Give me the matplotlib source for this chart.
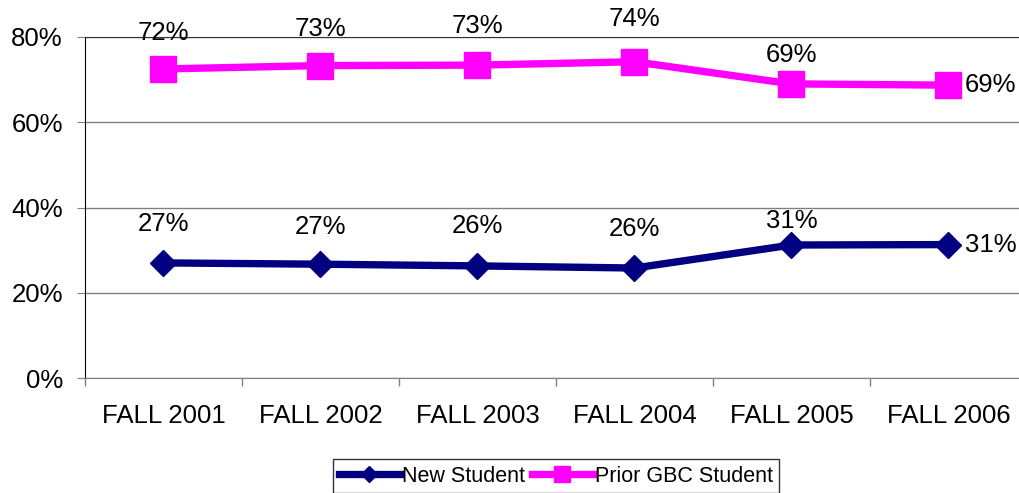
import matplotlib
matplotlib.use("Agg")
import matplotlib.pyplot as plt
from matplotlib.ticker import FixedLocator, PercentFormatter

categories = ["FALL 2001", "FALL 2002", "FALL 2003", "FALL 2004", "FALL 2005", "FALL 2006"]
new_student = [27.0, 26.7, 26.3, 25.8, 31.2, 31.3]
prior_gbc = [72.5, 73.3, 73.4, 74.2, 69.0, 68.7]
new_labels = ["27%", "27%", "26%", "26%", "31%", "31%"]
prior_labels = ["72%", "73%", "73%", "74%", "69%", "69%"]

# label placement offsets (points above marker); last label sits to the right
new_dy = [28, 27, 28.5, 28, 17]
prior_dy = [26, 26.3, 28.4, 31, 21]

plt.rcParams['font.family'] = ['Liberation Sans', 'DejaVu Sans']

fig = plt.figure(figsize=(10.2, 4.93), dpi=100)
ax = fig.add_axes([85/1020, (493-378)/493, 942/1020, (378-37)/493])

x = list(range(len(categories)))
ax.plot(x, new_student, color='#000080', lw=5.3, marker='D', markersize=13,
        label='New Student', solid_joinstyle='round')
ax.plot(x, prior_gbc, color='#FF00FF', lw=5.3, marker='s', markersize=18.5,
        label='Prior GBC Student')

fs = 18.5
for i in x:
    if i == len(x) - 1:
        ax.annotate(new_labels[i], (i, new_student[i]), xytext=(12, 0), textcoords='offset points',
                    ha='left', va='center', fontsize=fs)
        ax.annotate(prior_labels[i], (i, prior_gbc[i]), xytext=(12, 0), textcoords='offset points',
                    ha='left', va='center', fontsize=fs)
    else:
        ax.annotate(new_labels[i], (i, new_student[i]), xytext=(0, new_dy[i]), textcoords='offset points',
                    ha='center', va='center', fontsize=fs)
        ax.annotate(prior_labels[i], (i, prior_gbc[i]), xytext=(0, prior_dy[i]), textcoords='offset points',
                    ha='center', va='center', fontsize=fs)

ax.set_xlim(-0.5, 5.5)
ax.set_ylim(0, 80)
ax.yaxis.set_major_locator(FixedLocator([0, 20, 40, 60, 80]))
ax.yaxis.set_major_formatter(PercentFormatter(decimals=0))
ax.set_xticks(x)
ax.set_xticklabels(categories)
ax.set_xticks([i + 0.5 for i in range(-1, 6)], minor=True)
ax.tick_params(axis='x', which='major', length=0, labelsize=fs, pad=19)
ax.tick_params(axis='x', which='minor', length=6, color='#808080', width=1)
ax.tick_params(axis='y', length=6, color='#808080', labelsize=fs, pad=10)
ax.grid(axis='y', color='#808080', lw=1)
ax.set_axisbelow(True)
ax.spines['right'].set_visible(False)
ax.spines['top'].set_color('#333333')
ax.spines['left'].set_color('black')
ax.spines['bottom'].set_color('#808080')

leg = fig.legend(loc='center', bbox_to_anchor=(556/1020, 1 - 476/493), ncol=2,
                 fontsize=15.5, frameon=True, fancybox=False, edgecolor='black',
                 handlelength=2.8, handletextpad=0.1, columnspacing=0.35, borderpad=0.3,
                 borderaxespad=0, markerscale=0.6)
leg.get_frame().set_linewidth(1)

fig.savefig('out.png', dpi=100)
